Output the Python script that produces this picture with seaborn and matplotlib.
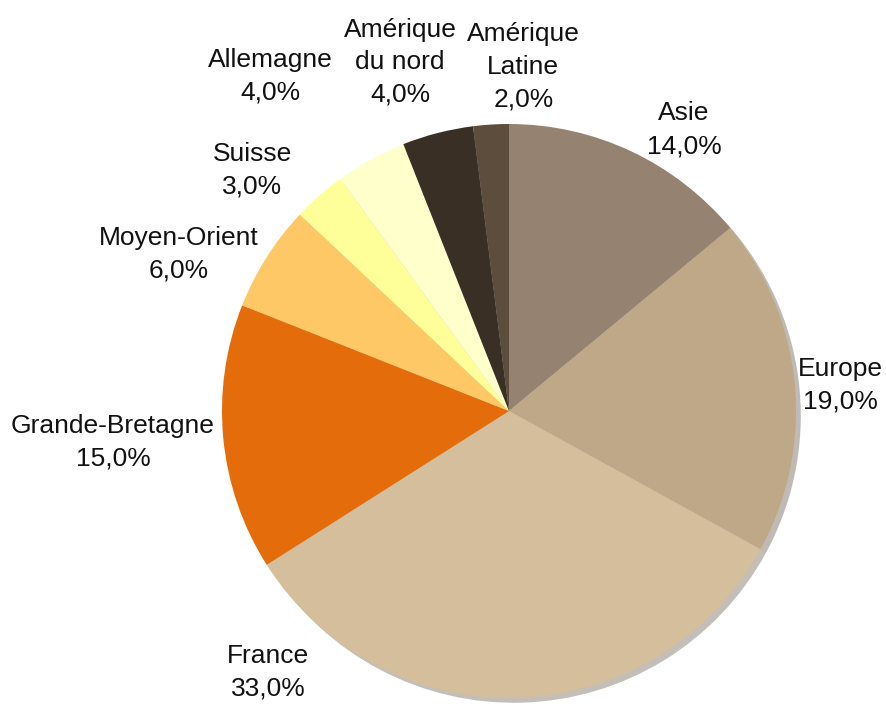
import matplotlib
matplotlib.use("Agg")
import matplotlib.pyplot as plt
import seaborn as sns

sns.set_theme(style="white")
plt.rcParams['font.family'] = ['Liberation Sans Narrow', 'Liberation Sans', 'DejaVu Sans']

# data, clockwise from 12 o'clock
regions = ['Asie', 'Europe', 'France', 'Grande-Bretagne', 'Moyen-Orient',
           'Suisse', 'Allemagne', 'Amérique\ndu nord', 'Amérique\nLatine']
shares = [14.0, 19.0, 33.0, 15.0, 6.0, 3.0, 4.0, 4.0, 2.0]
colors = ['#968270', '#bfa888', '#d4be9b', '#e46c0a', '#fec866',
          '#ffff99', '#ffffcc', '#3a2f25', '#5c4d3c']

# label centres in pie-radius units (Excel "best fit" placement)
label_pos = [(0.61, 0.98), (1.155, 0.09), (-0.84, -0.91), (-1.38, -0.11),
             (-1.15, 0.545), (-0.895, 0.84), (-0.83, 1.165), (-0.38, 1.215),
             (0.05, 1.20)]

fig = plt.figure(figsize=(8.87, 7.04), dpi=100)
ax = fig.add_axes([0, 0, 1, 1])

wedges, _ = ax.pie(shares, colors=colors, startangle=90, counterclock=False,
                   radius=1.0, center=(0, 0),
                   shadow={'ox': 0.012, 'oy': -0.012, 'shade': 0.5, 'alpha': 0.4},
                   wedgeprops={'linewidth': 0})

for name, val, (x, y) in zip(regions, shares, label_pos):
    ax.text(x, y, f"{name}\n{val:.1f}%".replace('.', ','), ha='center', va='center',
            fontsize=19, linespacing=1.45, color='#111111')

ax.set_xlim(-509 / 287, (887 - 509) / 287)
ax.set_ylim(-(704 - 411) / 287, 411 / 287)
ax.set_aspect('auto')
ax.axis('off')

fig.savefig('out.png', dpi=100)
